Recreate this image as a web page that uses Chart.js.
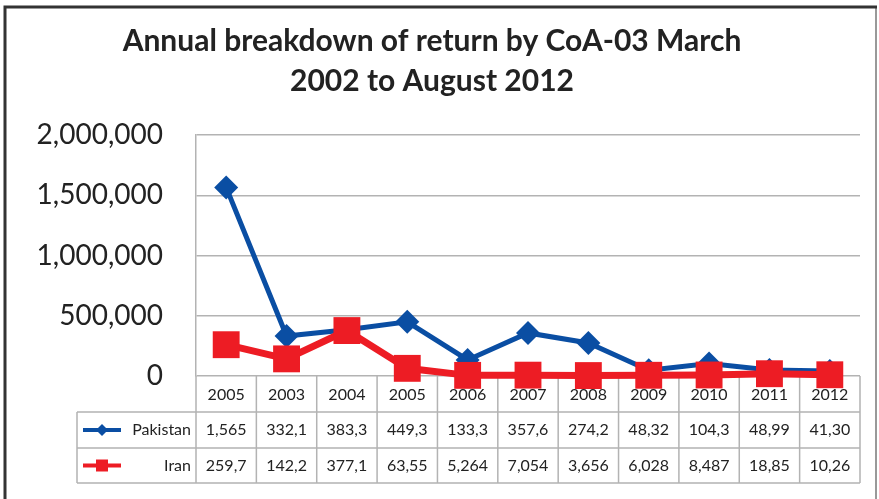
<!DOCTYPE html>
<html lang="en">
<head>
  <meta charset="UTF-8">
  <title>Annual breakdown of return by CoA-03</title>
  <script src="https://cdn.jsdelivr.net/npm/chart.js"></script>
  <style>
    body { margin: 0; background: #fff; }
  </style>
</head>
<body>

<canvas id="chart" width="879" height="499"></canvas>

<script>
const years = ['2005', '2003', '2004', '2005', '2006', '2007', '2008', '2009', '2010', '2011', '2012'];
const pakistan = [1565000, 332100, 383300, 449300, 133300, 357600, 274200, 48320, 104300, 48990, 41300];
const iran = [259700, 142200, 377100, 63550, 5264, 7054, 3656, 6028, 8487, 18850, 10260];
const yTicks = [0, 500000, 1000000, 1500000, 2000000];

const blue = '#0a4ea3';
const red = '#ed1c24';
const gridGray = '#b3b3b3';
const font = 'Lato, "Open Sans", sans-serif';

// table text in the cells is cut off like in the original
function cellText(v) {
  return v.toLocaleString('en-US').slice(0, 5);
}

function tableRows(chart) {
  const top = chart.chartArea.bottom;
  return [top, top + 36, top + 72, top + 107];
}

const tablePlugin = {
  id: 'tablePlugin',
  beforeDraw(chart) {
    const ctx = chart.ctx;
    ctx.save();
    ctx.fillStyle = '#fff';
    ctx.fillRect(0, 0, chart.width, chart.height);
    // outer frame
    ctx.strokeStyle = '#999';
    ctx.lineWidth = 2;
    ctx.beginPath();
    ctx.moveTo(876, 7);
    ctx.lineTo(876, 499);
    ctx.stroke();
    ctx.strokeStyle = '#333';
    ctx.lineWidth = 3;
    ctx.beginPath();
    ctx.moveTo(5, 499);
    ctx.lineTo(5, 7);
    ctx.lineTo(877, 7);
    ctx.stroke();
    // title
    ctx.fillStyle = '#222';
    ctx.font = 'bold 30px ' + font;
    ctx.textAlign = 'center';
    ctx.textBaseline = 'middle';
    ctx.fillText('Annual breakdown of return by CoA-03 March', 432, 41);
    ctx.fillText('2002 to August 2012', 432, 81);
    ctx.restore();
  },
  beforeDatasetsDraw(chart) {
    const ctx = chart.ctx;
    const area = chart.chartArea;
    const colW = (area.right - area.left) / years.length;
    const rows = tableRows(chart);
    const legendLeft = 77;

    ctx.save();
    ctx.strokeStyle = gridGray;
    ctx.lineWidth = 1.5;
    ctx.beginPath();
    for (let i = 0; i <= years.length; i++) {
      const cx = area.left + i * colW;
      ctx.moveTo(cx, rows[0]);
      ctx.lineTo(cx, rows[3]);
    }
    ctx.moveTo(legendLeft, rows[1]);
    ctx.lineTo(legendLeft, rows[3]);
    for (let r = 1; r < rows.length; r++) {
      ctx.moveTo(legendLeft, rows[r]);
      ctx.lineTo(area.right, rows[r]);
    }
    ctx.stroke();
    ctx.restore();
  },
  afterDraw(chart) {
    const ctx = chart.ctx;
    const x = chart.scales.x;
    const rows = tableRows(chart);

    ctx.save();
    ctx.fillStyle = '#222';
    ctx.font = '16px ' + font;
    ctx.textAlign = 'center';
    ctx.textBaseline = 'middle';
    [pakistan, iran].forEach((vals, r) => {
      const cy = (rows[r + 1] + rows[r + 2]) / 2;
      vals.forEach((v, i) => {
        ctx.fillText(cellText(v), x.getPixelForValue(i), cy);
      });
    });

    // legend keys
    const names = ['Pakistan', 'Iran'];
    chart.data.datasets.slice().sort((a, b) => names.indexOf(a.label) - names.indexOf(b.label)).forEach((ds, r) => {
      const cy = (rows[r + 1] + rows[r + 2]) / 2;
      ctx.strokeStyle = ds.borderColor;
      ctx.lineWidth = 4;
      ctx.beginPath();
      ctx.moveTo(83, cy);
      ctx.lineTo(121, cy);
      ctx.stroke();
      ctx.fillStyle = ds.backgroundColor;
      ctx.beginPath();
      if (ds.pointStyle === 'rectRot') {
        ctx.moveTo(102, cy - 6);
        ctx.lineTo(108, cy);
        ctx.lineTo(102, cy + 6);
        ctx.lineTo(96, cy);
      } else {
        ctx.rect(96, cy - 6, 12, 12);
      }
      ctx.fill();
      ctx.fillStyle = '#222';
      ctx.textAlign = 'right';
      ctx.fillText(ds.label, 191, cy);
    });
    ctx.restore();
  }
};

const ctx = document.getElementById('chart').getContext('2d');

const myChart = new Chart(ctx, {
  type: 'line',
  data: {
    labels: years,
    datasets: [{
      label: 'Pakistan',
      data: pakistan,
      borderColor: blue,
      backgroundColor: blue,
      borderWidth: 5,
      pointStyle: 'rectRot',
      pointRadius: 12,
      pointBorderWidth: 0,
      clip: false,
      order: 1
    }, {
      label: 'Iran',
      data: iran,
      borderColor: red,
      backgroundColor: red,
      borderWidth: 7,
      pointStyle: 'rect',
      pointRadius: 19,
      pointBorderWidth: 0,
      clip: false,
      order: 0
    }]
  },
  options: {
    responsive: false,
    animation: false,
    layout: { padding: { top: 135, left: 5, right: 17, bottom: 0 } },
    plugins: {
      legend: { display: false },
      title: { display: false },
      tooltip: { enabled: false }
    },
    scales: {
      x: {
        offset: true,
        grid: { display: false },
        border: { display: false },
        ticks: { color: '#222', font: { family: font, size: 16 }, padding: 1, maxRotation: 0, autoSkip: false },
        afterFit(scale) { scale.height = 123; }
      },
      y: {
        min: 0,
        max: 2000000,
        afterBuildTicks(scale) { scale.ticks = yTicks.map(v => ({ value: v })); },
        grid: { color: gridGray, lineWidth: 1.5, drawTicks: false },
        border: { color: gridGray, width: 1.5 },
        ticks: {
          color: '#222',
          padding: 33,
          font: { family: font, size: 28 },
          callback: v => v.toLocaleString('en-US')
        },
        afterFit(scale) { scale.width = 191; }
      }
    }
  },
  plugins: [tablePlugin]
});
</script>
</body>
</html>
